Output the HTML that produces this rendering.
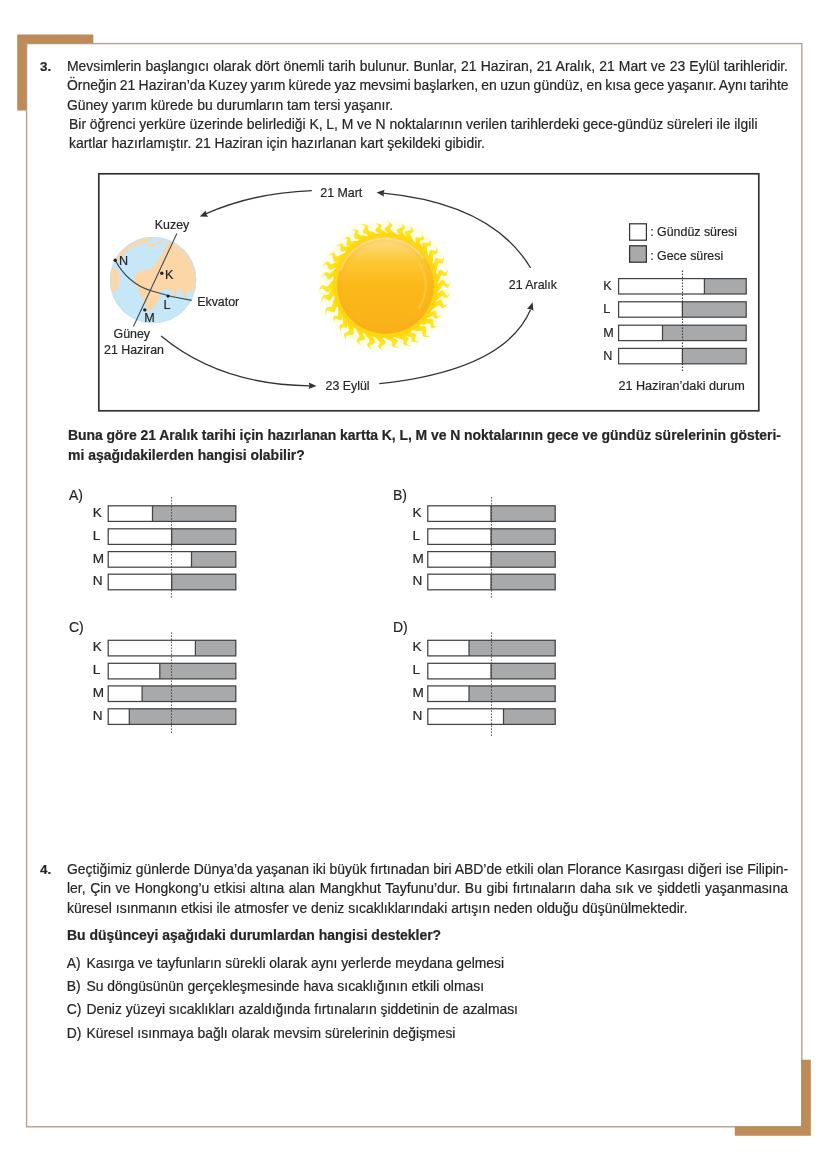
<!DOCTYPE html>
<html><head><meta charset="utf-8"><style>
html,body{margin:0;padding:0;background:#fff;}
body{width:828px;height:1171px;position:relative;overflow:hidden;font-family:"Liberation Sans",sans-serif;color:#262626;}
.t{position:absolute;white-space:nowrap;-webkit-text-stroke:0.2px #262626;}
</style></head><body>
<svg width="828" height="1171" viewBox="0 0 828 1171" style="position:absolute;left:0;top:0"><rect x="26.6" y="43.6" width="775.2" height="1083.2" fill="none" stroke="#b3a296" stroke-width="1.4"/>
<path d="M17.2 34.6 H93.3 V43.4 H26.3 V110.6 H17.2 Z" fill="#bc8b57"/>
<path d="M810.8 1135.8 H734.8 V1126.5 H801.3 V1059.8 H810.8 Z" fill="#bc8b57"/>
<rect x="98.8" y="173.8" width="660" height="237" fill="none" stroke="#333" stroke-width="1.7"/>
<rect x="618.6" y="278.6" width="127.60000000000002" height="15.4" fill="#fff"/>
<rect x="704.4" y="278.6" width="41.80000000000007" height="15.4" fill="#a8a9ab"/>
<rect x="618.6" y="278.6" width="127.60000000000002" height="15.4" fill="none" stroke="#444" stroke-width="1.25"/>
<line x1="704.4" y1="278.6" x2="704.4" y2="294.0" stroke="#444" stroke-width="1.25"/>
<rect x="618.6" y="301.8" width="127.60000000000002" height="15.4" fill="#fff"/>
<rect x="682.4" y="301.8" width="63.80000000000007" height="15.4" fill="#a8a9ab"/>
<rect x="618.6" y="301.8" width="127.60000000000002" height="15.4" fill="none" stroke="#444" stroke-width="1.25"/>
<line x1="682.4" y1="301.8" x2="682.4" y2="317.2" stroke="#444" stroke-width="1.25"/>
<rect x="618.6" y="325.2" width="127.60000000000002" height="15.4" fill="#fff"/>
<rect x="662.5" y="325.2" width="83.70000000000005" height="15.4" fill="#a8a9ab"/>
<rect x="618.6" y="325.2" width="127.60000000000002" height="15.4" fill="none" stroke="#444" stroke-width="1.25"/>
<line x1="662.5" y1="325.2" x2="662.5" y2="340.59999999999997" stroke="#444" stroke-width="1.25"/>
<rect x="618.6" y="348.4" width="127.60000000000002" height="15.4" fill="#fff"/>
<rect x="682.4" y="348.4" width="63.80000000000007" height="15.4" fill="#a8a9ab"/>
<rect x="618.6" y="348.4" width="127.60000000000002" height="15.4" fill="none" stroke="#444" stroke-width="1.25"/>
<line x1="682.4" y1="348.4" x2="682.4" y2="363.79999999999995" stroke="#444" stroke-width="1.25"/>
<line x1="682.5" y1="270.6" x2="682.5" y2="371.2" stroke="#3a3a3a" stroke-width="1.1" stroke-dasharray="1.3 1.7"/>
<rect x="629.6" y="223.8" width="16.8" height="16.4" fill="#fff" stroke="#333" stroke-width="1.25"/>
<rect x="629.6" y="245.8" width="16.8" height="16.4" fill="#a8a9ab" stroke="#333" stroke-width="1.25"/>
<rect x="108.2" y="505.8" width="127.60000000000001" height="15.6" fill="#fff"/>
<rect x="152.5" y="505.8" width="83.30000000000001" height="15.6" fill="#a8a9ab"/>
<rect x="108.2" y="505.8" width="127.60000000000001" height="15.6" fill="none" stroke="#444" stroke-width="1.25"/>
<line x1="152.5" y1="505.8" x2="152.5" y2="521.4" stroke="#444" stroke-width="1.25"/>
<rect x="108.2" y="528.8" width="127.60000000000001" height="15.6" fill="#fff"/>
<rect x="171.7" y="528.8" width="64.10000000000002" height="15.6" fill="#a8a9ab"/>
<rect x="108.2" y="528.8" width="127.60000000000001" height="15.6" fill="none" stroke="#444" stroke-width="1.25"/>
<line x1="171.7" y1="528.8" x2="171.7" y2="544.4" stroke="#444" stroke-width="1.25"/>
<rect x="108.2" y="551.6" width="127.60000000000001" height="15.6" fill="#fff"/>
<rect x="191.5" y="551.6" width="44.30000000000001" height="15.6" fill="#a8a9ab"/>
<rect x="108.2" y="551.6" width="127.60000000000001" height="15.6" fill="none" stroke="#444" stroke-width="1.25"/>
<line x1="191.5" y1="551.6" x2="191.5" y2="567.2" stroke="#444" stroke-width="1.25"/>
<rect x="108.2" y="574.2" width="127.60000000000001" height="15.6" fill="#fff"/>
<rect x="171.7" y="574.2" width="64.10000000000002" height="15.6" fill="#a8a9ab"/>
<rect x="108.2" y="574.2" width="127.60000000000001" height="15.6" fill="none" stroke="#444" stroke-width="1.25"/>
<line x1="171.7" y1="574.2" x2="171.7" y2="589.8000000000001" stroke="#444" stroke-width="1.25"/>
<line x1="171.5" y1="497.2" x2="171.5" y2="598.2" stroke="#3a3a3a" stroke-width="1.1" stroke-dasharray="1.3 1.7"/>
<rect x="427.8" y="505.8" width="127.40000000000003" height="15.6" fill="#fff"/>
<rect x="491" y="505.8" width="64.20000000000005" height="15.6" fill="#a8a9ab"/>
<rect x="427.8" y="505.8" width="127.40000000000003" height="15.6" fill="none" stroke="#444" stroke-width="1.25"/>
<line x1="491" y1="505.8" x2="491" y2="521.4" stroke="#444" stroke-width="1.25"/>
<rect x="427.8" y="528.8" width="127.40000000000003" height="15.6" fill="#fff"/>
<rect x="491" y="528.8" width="64.20000000000005" height="15.6" fill="#a8a9ab"/>
<rect x="427.8" y="528.8" width="127.40000000000003" height="15.6" fill="none" stroke="#444" stroke-width="1.25"/>
<line x1="491" y1="528.8" x2="491" y2="544.4" stroke="#444" stroke-width="1.25"/>
<rect x="427.8" y="551.6" width="127.40000000000003" height="15.6" fill="#fff"/>
<rect x="491" y="551.6" width="64.20000000000005" height="15.6" fill="#a8a9ab"/>
<rect x="427.8" y="551.6" width="127.40000000000003" height="15.6" fill="none" stroke="#444" stroke-width="1.25"/>
<line x1="491" y1="551.6" x2="491" y2="567.2" stroke="#444" stroke-width="1.25"/>
<rect x="427.8" y="574.2" width="127.40000000000003" height="15.6" fill="#fff"/>
<rect x="491" y="574.2" width="64.20000000000005" height="15.6" fill="#a8a9ab"/>
<rect x="427.8" y="574.2" width="127.40000000000003" height="15.6" fill="none" stroke="#444" stroke-width="1.25"/>
<line x1="491" y1="574.2" x2="491" y2="589.8000000000001" stroke="#444" stroke-width="1.25"/>
<line x1="491.5" y1="497.2" x2="491.5" y2="598.2" stroke="#3a3a3a" stroke-width="1.1" stroke-dasharray="1.3 1.7"/>
<rect x="108.2" y="640.3" width="127.60000000000001" height="15.6" fill="#fff"/>
<rect x="195.4" y="640.3" width="40.400000000000006" height="15.6" fill="#a8a9ab"/>
<rect x="108.2" y="640.3" width="127.60000000000001" height="15.6" fill="none" stroke="#444" stroke-width="1.25"/>
<line x1="195.4" y1="640.3" x2="195.4" y2="655.9" stroke="#444" stroke-width="1.25"/>
<rect x="108.2" y="663.3" width="127.60000000000001" height="15.6" fill="#fff"/>
<rect x="159.8" y="663.3" width="76.0" height="15.6" fill="#a8a9ab"/>
<rect x="108.2" y="663.3" width="127.60000000000001" height="15.6" fill="none" stroke="#444" stroke-width="1.25"/>
<line x1="159.8" y1="663.3" x2="159.8" y2="678.9" stroke="#444" stroke-width="1.25"/>
<rect x="108.2" y="685.9" width="127.60000000000001" height="15.6" fill="#fff"/>
<rect x="142.1" y="685.9" width="93.70000000000002" height="15.6" fill="#a8a9ab"/>
<rect x="108.2" y="685.9" width="127.60000000000001" height="15.6" fill="none" stroke="#444" stroke-width="1.25"/>
<line x1="142.1" y1="685.9" x2="142.1" y2="701.5" stroke="#444" stroke-width="1.25"/>
<rect x="108.2" y="708.8" width="127.60000000000001" height="15.6" fill="#fff"/>
<rect x="129.3" y="708.8" width="106.5" height="15.6" fill="#a8a9ab"/>
<rect x="108.2" y="708.8" width="127.60000000000001" height="15.6" fill="none" stroke="#444" stroke-width="1.25"/>
<line x1="129.3" y1="708.8" x2="129.3" y2="724.4" stroke="#444" stroke-width="1.25"/>
<line x1="171.5" y1="632.5" x2="171.5" y2="732.8" stroke="#3a3a3a" stroke-width="1.1" stroke-dasharray="1.3 1.7"/>
<rect x="427.8" y="640.3" width="127.40000000000003" height="15.6" fill="#fff"/>
<rect x="469" y="640.3" width="86.20000000000005" height="15.6" fill="#a8a9ab"/>
<rect x="427.8" y="640.3" width="127.40000000000003" height="15.6" fill="none" stroke="#444" stroke-width="1.25"/>
<line x1="469" y1="640.3" x2="469" y2="655.9" stroke="#444" stroke-width="1.25"/>
<rect x="427.8" y="663.3" width="127.40000000000003" height="15.6" fill="#fff"/>
<rect x="491" y="663.3" width="64.20000000000005" height="15.6" fill="#a8a9ab"/>
<rect x="427.8" y="663.3" width="127.40000000000003" height="15.6" fill="none" stroke="#444" stroke-width="1.25"/>
<line x1="491" y1="663.3" x2="491" y2="678.9" stroke="#444" stroke-width="1.25"/>
<rect x="427.8" y="685.9" width="127.40000000000003" height="15.6" fill="#fff"/>
<rect x="469" y="685.9" width="86.20000000000005" height="15.6" fill="#a8a9ab"/>
<rect x="427.8" y="685.9" width="127.40000000000003" height="15.6" fill="none" stroke="#444" stroke-width="1.25"/>
<line x1="469" y1="685.9" x2="469" y2="701.5" stroke="#444" stroke-width="1.25"/>
<rect x="427.8" y="708.8" width="127.40000000000003" height="15.6" fill="#fff"/>
<rect x="503.5" y="708.8" width="51.700000000000045" height="15.6" fill="#a8a9ab"/>
<rect x="427.8" y="708.8" width="127.40000000000003" height="15.6" fill="none" stroke="#444" stroke-width="1.25"/>
<line x1="503.5" y1="708.8" x2="503.5" y2="724.4" stroke="#444" stroke-width="1.25"/>
<line x1="491.5" y1="632.5" x2="491.5" y2="736.2" stroke="#3a3a3a" stroke-width="1.1" stroke-dasharray="1.3 1.7"/>
<path d="M311.8 190.6 Q252 193 205 214.2" fill="none" stroke="#333" stroke-width="1.3"/><path d="M199.7 216.6 L205.7 210.6 L206.2 213.9 L208.2 216.7 Z" fill="#333"/>
<path d="M530.6 268 C505 225 455 200 383 193.1" fill="none" stroke="#333" stroke-width="1.3"/><path d="M376.5 192.4 L384.6 189.8 L383.5 193.0 L384.0 196.4 Z" fill="#333"/>
<path d="M161.1 336.1 Q220 385 310 385.8" fill="none" stroke="#333" stroke-width="1.3"/><path d="M316.5 385.9 L308.6 389.0 L309.5 385.7 L308.8 382.4 Z" fill="#333"/>
<path d="M379.3 383.7 Q505 370 530.6 309.5" fill="none" stroke="#333" stroke-width="1.3"/><path d="M532.5 302.3 L533.5 310.7 L530.5 309.0 L527.1 308.9 Z" fill="#333"/>

<defs><clipPath id="gc"><circle cx="153.1" cy="280.1" r="43.2"/></clipPath></defs>
<circle cx="153.1" cy="280.1" r="43.2" fill="#c6e7f7"/>
<g clip-path="url(#gc)" fill="#fdd6a8">
 <path d="M171 230 L205 240 L205 290 L196 290 L190 292 L187 291 L186.5 297 L183.5 297 L182 291 L177 290 L176 296 L173 296 L172 290 L165 289 L161 292 L159 300 L155 306 L150 311 L146.5 309 L143.5 300 L139.5 292 L135.5 284 L134 277 L138 272 L146 270 L152 268 L156 263 L161 256 L165 248 L169 240 Z"/>
 <path d="M105 262 L105 228 L152 228 L152 239.8 L146 242.8 L137 245.5 L129 249.5 L124 255 L121 261 Z"/>
 <ellipse cx="151.5" cy="245.3" rx="3.5" ry="1.6"/>
 <ellipse cx="159.5" cy="242.5" rx="3.5" ry="1.5" transform="rotate(-15 159.5 242.5)"/>
 <path d="M105 266 L111 266 L118 270 L120 281 L117 290 L111 294 L105 294 Z"/>
</g>
<circle cx="153.1" cy="280.1" r="42.6" fill="none" stroke="#c2e3f5" stroke-width="1.3" stroke-opacity="0.8"/>
<line x1="176.9" y1="233.4" x2="133.4" y2="326.5" stroke="#3d4a58" stroke-width="1.1"/>
<path d="M115.2 260.2 Q128 284 152 291 Q172 297.5 191.7 300.4" fill="none" stroke="#3d4a58" stroke-width="1.3"/>
<circle cx="115.2" cy="260.2" r="1.7" fill="#222"/>
<circle cx="161.8" cy="273.2" r="1.7" fill="#222"/>
<circle cx="168" cy="296.1" r="1.7" fill="#222"/>
<circle cx="144.8" cy="309.9" r="1.7" fill="#222"/>


<defs>
 <radialGradient id="fg" gradientUnits="userSpaceOnUse" cx="385.5" cy="285.5" r="68">
  <stop offset="0.7" stop-color="#ffd20e"/>
  <stop offset="0.84" stop-color="#ffe41a"/>
  <stop offset="1" stop-color="#f6ee5a"/>
 </radialGradient>
 <filter id="fb" x="-10%" y="-10%" width="120%" height="120%"><feGaussianBlur stdDeviation="0.45"/></filter>
 <filter id="fb2" x="-10%" y="-10%" width="120%" height="120%"><feGaussianBlur stdDeviation="2"/></filter>
 <linearGradient id="sg" gradientUnits="userSpaceOnUse" x1="0" y1="237.5" x2="0" y2="333.5">
  <stop offset="0" stop-color="#fde08a"/>
  <stop offset="0.1" stop-color="#fdd56a"/>
  <stop offset="0.24" stop-color="#fcc835"/>
  <stop offset="0.5" stop-color="#fbb919"/>
  <stop offset="1" stop-color="#fab11a"/>
 </linearGradient>
 <radialGradient id="sh" gradientUnits="userSpaceOnUse" cx="385.5" cy="285.5" r="48.3">
  <stop offset="0.85" stop-color="#f9a820" stop-opacity="0"/>
  <stop offset="1" stop-color="#f9a820" stop-opacity="0.35"/>
 </radialGradient>
</defs>
<circle cx="385.5" cy="285.5" r="65" fill="#fdfbd6" opacity="0.55" filter="url(#fb2)"/>
<path d="M435.3 281.0 L436.5 282.6 L437.7 283.5 L438.8 283.3 L439.9 282.2 L440.9 280.8 L442.0 279.9 L443.1 280.0 L444.4 281.1 L445.6 282.6 L446.8 283.9 L447.9 284.4 L449.0 284.0 L450.1 283.0 L451.2 282.0 L451.2 282.0 L450.2 284.2 L449.0 286.1 L447.9 287.4 L446.7 287.6 L445.6 287.0 L444.5 286.1 L443.4 285.7 L442.3 286.1 L441.1 287.5 L439.9 289.4 L438.6 290.9 L437.4 291.5 L436.3 291.0 L435.3 289.7Z M435.3 290.2 L436.2 292.1 L437.2 293.1 L438.3 293.1 L439.5 292.2 L440.8 291.0 L442.0 290.2 L443.1 290.5 L444.1 291.6 L445.0 293.2 L445.9 294.6 L447.0 295.2 L448.1 294.8 L449.4 293.8 L450.6 292.8 L450.6 292.8 L449.2 295.0 L447.8 296.9 L446.4 298.1 L445.3 298.2 L444.3 297.6 L443.3 296.6 L442.3 296.0 L441.1 296.4 L439.7 297.6 L438.2 299.2 L436.7 300.5 L435.4 301.0 L434.4 300.3 L433.7 298.9Z M433.8 298.5 L434.4 300.4 L435.2 301.7 L436.3 301.8 L437.7 301.1 L439.1 300.2 L440.4 299.6 L441.4 300.1 L442.2 301.4 L442.8 303.1 L443.5 304.7 L444.5 305.4 L445.7 305.2 L447.1 304.5 L448.5 303.8 L448.5 303.8 L446.7 305.6 L445.0 307.2 L443.4 308.2 L442.3 308.1 L441.4 307.3 L440.6 306.2 L439.7 305.4 L438.5 305.5 L436.9 306.5 L435.1 307.8 L433.4 308.9 L432.1 309.1 L431.3 308.3 L430.8 306.7Z M429.8 308.8 L429.8 310.7 L430.2 312.0 L431.1 312.3 L432.5 311.8 L434.0 311.1 L435.2 310.8 L436.1 311.2 L436.5 312.6 L436.6 314.2 L436.9 315.7 L437.6 316.4 L438.8 316.3 L440.3 315.6 L441.7 315.1 L441.7 315.1 L439.7 316.7 L437.7 318.1 L436.1 318.8 L435.0 318.7 L434.4 317.9 L434.0 316.8 L433.3 316.0 L432.2 316.0 L430.5 316.7 L428.6 317.8 L426.8 318.5 L425.6 318.5 L425.0 317.7 L425.0 316.1Z M426.0 314.8 L425.9 316.9 L426.3 318.4 L427.4 319.0 L429.0 318.9 L430.8 318.6 L432.2 318.7 L433.1 319.5 L433.5 321.1 L433.5 323.1 L433.7 324.8 L434.3 325.9 L435.6 326.3 L437.3 326.2 L438.9 326.1 L438.9 326.1 L436.5 327.1 L434.2 328.0 L432.3 328.2 L431.2 327.7 L430.6 326.5 L430.3 325.1 L429.6 324.0 L428.4 323.5 L426.5 323.8 L424.2 324.4 L422.2 324.7 L420.8 324.3 L420.2 323.1 L420.2 321.5Z M420.0 321.7 L419.6 323.8 L419.8 325.4 L420.7 326.2 L422.3 326.5 L424.2 326.6 L425.6 326.9 L426.3 328.0 L426.4 329.8 L426.0 331.8 L425.8 333.7 L426.1 335.0 L427.3 335.8 L428.9 336.1 L430.4 336.5 L430.4 336.5 L427.9 336.9 L425.6 337.1 L423.7 336.9 L422.8 336.0 L422.5 334.7 L422.4 333.1 L422.0 331.8 L420.9 331.1 L418.9 330.9 L416.6 331.0 L414.5 330.8 L413.2 330.1 L412.9 328.9 L413.2 327.1Z M411.2 328.4 L410.3 330.2 L410.1 331.7 L410.8 332.6 L412.4 333.0 L414.2 333.3 L415.5 333.8 L416.1 334.8 L415.9 336.3 L415.3 338.0 L414.9 339.5 L415.3 340.6 L416.5 341.2 L418.3 341.6 L420.0 341.9 L420.0 341.9 L417.2 342.2 L414.6 342.3 L412.6 342.0 L411.6 341.2 L411.4 340.0 L411.5 338.7 L411.2 337.5 L410.1 336.8 L408.2 336.4 L405.9 336.1 L403.9 335.7 L402.7 334.9 L402.7 333.7 L403.3 332.2Z M404.7 331.7 L403.5 333.3 L403.1 334.7 L403.7 335.7 L405.1 336.3 L406.9 336.8 L408.2 337.5 L408.6 338.5 L408.2 339.9 L407.4 341.4 L406.8 342.8 L407.0 344.0 L408.1 344.7 L409.9 345.2 L411.6 345.7 L411.6 345.7 L408.8 345.7 L406.1 345.5 L404.2 344.9 L403.3 344.0 L403.2 342.9 L403.5 341.6 L403.3 340.5 L402.4 339.6 L400.5 339.0 L398.3 338.4 L396.3 337.7 L395.3 336.8 L395.4 335.6 L396.3 334.3Z M395.4 334.5 L393.9 335.8 L393.2 337.0 L393.5 337.9 L394.8 338.7 L396.4 339.5 L397.5 340.3 L397.7 341.3 L397.1 342.5 L396.0 343.7 L395.1 344.9 L395.1 345.9 L396.1 346.8 L397.7 347.5 L399.2 348.2 L399.2 348.2 L396.5 347.7 L394.0 347.1 L392.3 346.3 L391.5 345.3 L391.7 344.3 L392.2 343.2 L392.3 342.2 L391.5 341.3 L389.8 340.4 L387.8 339.5 L386.0 338.5 L385.2 337.5 L385.5 336.5 L386.7 335.5Z M385.4 335.5 L383.6 336.6 L382.7 337.6 L382.8 338.7 L383.8 339.8 L385.0 340.9 L385.8 342.0 L385.6 343.1 L384.5 344.2 L382.9 345.2 L381.5 346.2 L381.0 347.3 L381.4 348.4 L382.3 349.5 L383.2 350.7 L383.2 350.7 L381.1 349.5 L379.2 348.2 L378.1 347.0 L377.9 345.9 L378.6 344.9 L379.5 343.9 L380.0 342.8 L379.7 341.7 L378.4 340.5 L376.7 339.1 L375.2 337.8 L374.7 336.5 L375.3 335.6 L376.6 334.7Z M376.0 334.6 L374.1 335.4 L373.0 336.3 L372.9 337.5 L373.7 338.8 L374.8 340.2 L375.4 341.5 L375.1 342.7 L373.8 343.6 L372.1 344.4 L370.7 345.3 L370.1 346.3 L370.4 347.6 L371.3 349.0 L372.2 350.3 L372.2 350.3 L370.1 348.7 L368.3 347.0 L367.2 345.5 L367.1 344.3 L367.9 343.3 L368.9 342.4 L369.6 341.4 L369.3 340.1 L368.3 338.6 L366.8 336.8 L365.6 335.1 L365.3 333.8 L366.1 332.8 L367.6 332.2Z M366.8 331.9 L364.8 332.2 L363.5 332.8 L363.2 333.9 L363.8 335.4 L364.7 336.9 L365.1 338.2 L364.6 339.2 L363.3 339.9 L361.6 340.3 L360.1 340.9 L359.4 341.8 L359.6 343.1 L360.4 344.6 L361.1 346.1 L361.1 346.1 L359.3 344.1 L357.7 342.2 L356.8 340.5 L356.8 339.3 L357.7 338.5 L358.8 337.8 L359.5 336.9 L359.5 335.7 L358.6 334.0 L357.4 332.1 L356.6 330.2 L356.5 328.9 L357.4 328.2 L359.0 327.9Z M357.7 327.1 L355.6 327.2 L354.1 327.6 L353.4 328.8 L353.5 330.4 L353.9 332.2 L353.8 333.8 L353.0 334.7 L351.3 335.1 L349.2 335.3 L347.4 335.5 L346.2 336.2 L345.8 337.5 L345.9 339.2 L345.9 340.8 L345.9 340.8 L344.9 338.4 L344.1 336.1 L343.9 334.3 L344.4 333.1 L345.7 332.5 L347.2 332.0 L348.4 331.3 L348.8 330.0 L348.5 328.1 L347.9 325.8 L347.6 323.8 L348.0 322.3 L349.2 321.7 L350.9 321.6Z M351.2 321.9 L349.2 321.4 L347.9 321.5 L347.3 322.4 L347.3 323.9 L347.6 325.6 L347.5 327.0 L346.8 327.7 L345.4 327.8 L343.7 327.6 L342.2 327.6 L341.2 328.1 L341.0 329.4 L341.2 331.0 L341.4 332.7 L341.4 332.7 L340.4 330.2 L339.5 327.8 L339.3 326.0 L339.7 324.9 L340.7 324.5 L341.9 324.3 L342.9 323.8 L343.2 322.6 L343.0 320.8 L342.6 318.6 L342.4 316.6 L342.8 315.3 L343.8 315.0 L345.4 315.3Z M345.8 316.0 L344.1 315.1 L342.7 314.9 L342.1 315.6 L341.9 317.0 L341.9 318.6 L341.6 319.8 L340.8 320.3 L339.3 320.0 L337.7 319.3 L336.2 318.9 L335.1 319.0 L334.6 319.9 L334.4 321.3 L334.2 322.7 L334.2 322.7 L333.8 320.4 L333.5 318.2 L333.6 316.6 L334.3 315.8 L335.3 315.8 L336.6 315.9 L337.6 315.8 L338.1 314.9 L338.2 313.1 L338.1 311.0 L338.2 309.1 L338.7 308.0 L339.8 307.9 L341.1 308.6Z M340.8 307.8 L338.9 306.8 L337.4 306.5 L336.4 307.2 L335.7 308.7 L335.2 310.5 L334.5 311.8 L333.4 312.3 L331.8 312.0 L330.1 311.2 L328.5 310.6 L327.2 310.8 L326.4 311.9 L325.8 313.6 L325.2 315.2 L325.2 315.2 L325.3 312.5 L325.5 309.9 L326.1 308.0 L327.1 307.1 L328.4 307.1 L329.8 307.3 L331.0 307.1 L331.9 306.1 L332.6 304.3 L333.1 302.0 L333.8 300.0 L334.8 298.9 L336.1 298.9 L337.6 299.7Z M337.0 297.6 L335.4 296.3 L334.0 295.6 L332.9 296.1 L331.9 297.5 L331.0 299.2 L330.1 300.4 L328.9 300.7 L327.5 300.1 L326.0 299.1 L324.5 298.4 L323.3 298.5 L322.3 299.6 L321.4 301.3 L320.6 303.0 L320.6 303.0 L321.1 300.1 L321.8 297.4 L322.8 295.5 L323.9 294.7 L325.1 294.7 L326.4 295.1 L327.7 295.1 L328.8 294.3 L329.8 292.5 L330.8 290.3 L331.9 288.5 L333.1 287.6 L334.3 287.9 L335.6 289.0Z M335.8 290.8 L334.4 289.2 L333.1 288.3 L331.8 288.6 L330.7 289.8 L329.5 291.2 L328.4 292.2 L327.1 292.3 L325.8 291.4 L324.4 290.0 L323.1 288.9 L321.8 288.6 L320.6 289.3 L319.4 290.6 L318.3 291.9 L318.3 291.9 L319.3 289.4 L320.5 287.1 L321.7 285.6 L323.0 285.1 L324.2 285.5 L325.5 286.3 L326.7 286.6 L328.0 286.0 L329.2 284.5 L330.6 282.5 L331.9 280.9 L333.3 280.2 L334.5 280.7 L335.6 282.0Z M335.9 279.2 L335.1 277.4 L334.2 276.3 L333.1 276.4 L331.8 277.3 L330.6 278.6 L329.4 279.4 L328.3 279.2 L327.4 278.2 L326.5 276.7 L325.6 275.5 L324.6 275.2 L323.4 275.8 L322.1 277.0 L320.9 278.2 L320.9 278.2 L322.3 275.8 L323.8 273.7 L325.2 272.3 L326.3 271.9 L327.3 272.4 L328.2 273.3 L329.2 273.7 L330.4 273.3 L331.8 272.0 L333.4 270.3 L334.9 269.0 L336.2 268.6 L337.1 269.2 L337.8 270.7Z M337.6 271.2 L336.9 269.2 L336.1 268.0 L334.9 267.8 L333.4 268.5 L331.8 269.4 L330.4 270.0 L329.3 269.6 L328.4 268.3 L327.7 266.6 L326.9 265.1 L325.8 264.5 L324.5 264.7 L322.9 265.7 L321.4 266.5 L321.4 266.5 L323.3 264.5 L325.2 262.7 L326.9 261.7 L328.2 261.6 L329.2 262.4 L330.1 263.5 L331.1 264.2 L332.4 264.1 L334.1 263.1 L336.1 261.8 L337.9 260.7 L339.4 260.6 L340.3 261.5 L340.8 263.1Z M340.3 264.1 L340.1 262.1 L339.6 260.8 L338.6 260.4 L337.2 260.9 L335.7 261.5 L334.5 261.8 L333.6 261.2 L333.2 259.7 L332.9 257.8 L332.7 256.1 L332.0 255.1 L330.9 254.9 L329.5 255.3 L328.2 255.5 L328.2 255.5 L330.1 254.2 L332.0 253.1 L333.5 252.6 L334.5 252.9 L335.1 254.0 L335.5 255.3 L336.2 256.2 L337.3 256.4 L339.0 255.7 L340.9 254.7 L342.7 254.0 L344.0 254.1 L344.6 255.0 L344.7 256.6Z M346.2 254.6 L346.5 252.6 L346.4 251.3 L345.5 250.8 L344.1 251.1 L342.4 251.5 L341.1 251.6 L340.4 251.0 L340.2 249.6 L340.3 248.0 L340.3 246.5 L339.7 245.7 L338.5 245.6 L336.9 246.0 L335.4 246.3 L335.4 246.3 L337.7 245.1 L339.9 244.0 L341.6 243.6 L342.7 243.9 L343.2 244.8 L343.4 245.9 L344.0 246.8 L345.1 247.0 L346.8 246.6 L348.9 245.9 L350.9 245.5 L352.1 245.7 L352.5 246.7 L352.2 248.2Z M351.1 249.2 L351.7 247.4 L351.8 246.0 L351.1 245.4 L349.6 245.4 L348.1 245.6 L346.8 245.4 L346.3 244.6 L346.4 243.2 L346.9 241.4 L347.3 239.9 L347.0 238.9 L346.1 238.4 L344.7 238.4 L343.3 238.3 L343.3 238.3 L345.6 237.6 L347.7 237.1 L349.3 237.1 L350.1 237.7 L350.3 238.7 L350.2 240.0 L350.5 241.0 L351.4 241.4 L353.1 241.3 L355.2 241.0 L357.1 240.9 L358.3 241.3 L358.4 242.3 L358.0 243.8Z M358.6 243.4 L359.4 241.5 L359.6 240.1 L358.9 239.2 L357.4 238.8 L355.6 238.5 L354.3 238.1 L353.8 237.1 L354.0 235.6 L354.7 233.8 L355.1 232.3 L354.9 231.1 L353.8 230.5 L352.1 230.1 L350.5 229.8 L350.5 229.8 L353.1 229.5 L355.6 229.4 L357.5 229.7 L358.4 230.5 L358.5 231.7 L358.4 233.1 L358.6 234.2 L359.7 235.0 L361.5 235.3 L363.8 235.5 L365.8 235.9 L366.9 236.7 L367.0 237.8 L366.3 239.3Z M366.8 239.1 L368.0 237.4 L368.4 236.0 L367.8 234.9 L366.3 234.2 L364.6 233.6 L363.3 232.9 L362.8 231.8 L363.3 230.3 L364.1 228.7 L364.7 227.2 L364.5 226.0 L363.4 225.2 L361.6 224.5 L359.9 223.9 L359.9 223.9 L362.8 224.1 L365.4 224.4 L367.3 225.1 L368.3 226.1 L368.3 227.3 L368.0 228.6 L368.2 229.8 L369.1 230.8 L371.0 231.5 L373.2 232.1 L375.2 232.9 L376.2 234.0 L376.1 235.2 L375.2 236.6Z M377.0 236.2 L378.5 235.0 L379.3 233.9 L379.0 233.0 L377.7 232.2 L376.3 231.4 L375.3 230.6 L375.2 229.7 L376.0 228.5 L377.2 227.4 L378.2 226.2 L378.4 225.2 L377.7 224.4 L376.4 223.6 L375.1 222.8 L375.1 222.8 L377.5 223.4 L379.8 224.1 L381.3 225.0 L381.8 225.9 L381.5 226.9 L380.9 227.9 L380.6 228.9 L381.3 229.8 L382.8 230.7 L384.8 231.6 L386.5 232.6 L387.3 233.6 L386.9 234.5 L385.7 235.5Z M384.9 235.5 L386.6 234.5 L387.6 233.5 L387.4 232.5 L386.4 231.4 L385.2 230.4 L384.4 229.4 L384.6 228.3 L385.7 227.3 L387.4 226.3 L388.7 225.3 L389.3 224.3 L389.0 223.3 L388.1 222.2 L387.3 221.2 L387.3 221.2 L389.3 222.3 L391.1 223.5 L392.2 224.6 L392.4 225.6 L391.7 226.6 L390.7 227.5 L390.2 228.5 L390.5 229.6 L391.8 230.7 L393.5 232.0 L395.0 233.3 L395.5 234.4 L394.9 235.4 L393.6 236.2Z M395.8 236.6 L397.7 235.9 L398.9 235.2 L399.0 234.1 L398.2 232.9 L397.2 231.6 L396.7 230.4 L397.1 229.4 L398.4 228.6 L400.2 228.0 L401.7 227.3 L402.5 226.5 L402.3 225.4 L401.6 224.1 L401.0 222.9 L401.0 222.9 L402.8 224.4 L404.3 226.0 L405.2 227.3 L405.2 228.4 L404.3 229.2 L403.2 230.0 L402.5 230.8 L402.6 231.9 L403.6 233.4 L405.0 235.0 L406.2 236.6 L406.4 237.8 L405.7 238.6 L404.2 239.1Z M403.0 238.7 L405.0 238.3 L406.2 237.7 L406.5 236.6 L405.9 235.2 L405.1 233.8 L404.8 232.5 L405.3 231.5 L406.8 230.9 L408.6 230.5 L410.2 230.1 L411.1 229.3 L411.2 228.1 L410.6 226.8 L410.2 225.4 L410.2 225.4 L411.7 227.2 L413.1 229.0 L413.8 230.6 L413.5 231.7 L412.6 232.4 L411.3 233.0 L410.5 233.7 L410.4 234.9 L411.2 236.5 L412.4 238.3 L413.3 240.1 L413.3 241.4 L412.4 242.1 L410.9 242.4Z M412.4 243.3 L414.3 243.5 L415.7 243.2 L416.1 242.4 L415.8 241.0 L415.3 239.5 L415.2 238.3 L415.9 237.6 L417.4 237.4 L419.2 237.5 L420.9 237.5 L421.9 237.0 L422.1 236.0 L421.9 234.7 L421.8 233.4 L421.8 233.4 L422.9 235.4 L423.8 237.3 L424.1 238.8 L423.7 239.7 L422.6 240.1 L421.4 240.3 L420.4 240.7 L420.1 241.8 L420.6 243.4 L421.4 245.3 L421.9 247.2 L421.8 248.4 L420.8 248.8 L419.3 248.7Z M418.7 248.1 L420.7 248.5 L422.0 248.4 L422.6 247.6 L422.6 246.1 L422.3 244.5 L422.4 243.2 L423.2 242.6 L424.7 242.5 L426.5 242.8 L428.1 243.0 L429.2 242.6 L429.6 241.5 L429.5 240.1 L429.6 238.7 L429.6 238.7 L430.4 240.9 L431.0 243.1 L431.2 244.7 L430.6 245.7 L429.5 245.9 L428.2 246.0 L427.2 246.4 L426.8 247.5 L427.0 249.2 L427.4 251.3 L427.7 253.3 L427.3 254.5 L426.3 254.8 L424.7 254.5Z M425.2 255.1 L427.1 255.9 L428.4 256.0 L429.2 255.3 L429.3 253.7 L429.3 252.0 L429.6 250.6 L430.4 250.0 L431.8 250.1 L433.4 250.5 L434.8 250.8 L435.8 250.3 L436.2 249.1 L436.2 247.3 L436.2 245.7 L436.2 245.7 L436.9 248.3 L437.4 250.8 L437.4 252.7 L436.9 253.8 L435.8 254.1 L434.6 254.2 L433.6 254.5 L433.1 255.6 L433.0 257.5 L433.1 259.8 L433.0 261.8 L432.4 263.0 L431.4 263.1 L429.9 262.5Z M429.8 262.3 L431.6 263.3 L433.0 263.7 L433.9 263.0 L434.5 261.5 L434.9 259.7 L435.4 258.4 L436.5 257.9 L437.9 258.2 L439.6 259.0 L441.1 259.5 L442.2 259.2 L442.9 258.1 L443.4 256.4 L443.8 254.7 L443.8 254.7 L443.9 257.5 L443.8 260.0 L443.4 262.0 L442.6 262.9 L441.4 263.0 L440.1 262.8 L438.9 263.0 L438.1 264.0 L437.6 265.9 L437.2 268.1 L436.7 270.1 L435.8 271.2 L434.6 271.2 L433.2 270.4Z M433.7 272.3 L435.2 273.7 L436.4 274.4 L437.4 274.0 L438.2 272.6 L438.9 271.1 L439.7 270.0 L440.7 269.8 L442.0 270.5 L443.4 271.6 L444.7 272.5 L445.8 272.6 L446.7 271.8 L447.5 270.4 L448.2 269.0 L448.2 269.0 L447.7 271.5 L447.1 273.9 L446.4 275.5 L445.4 276.1 L444.3 275.9 L443.1 275.4 L442.0 275.2 L441.1 276.0 L440.2 277.6 L439.4 279.7 L438.5 281.5 L437.5 282.3 L436.4 282.0 L435.3 281.0Z" fill="url(#fg)" filter="url(#fb)"/>
<circle cx="385.5" cy="285.5" r="52.5" fill="#ffd60f"/>
<circle cx="385.5" cy="285.5" r="48.3" fill="url(#sg)"/>
<circle cx="385.5" cy="285.5" r="48.3" fill="url(#sh)"/>
<path d="M340.5 270.5 A47 47 0 0 1 423.5 258.5" fill="none" stroke="#feeab0" stroke-width="1.8" stroke-opacity="0.5"/>
<path d="M418.5 262.5 A40 40 0 0 1 418.5 308.5" fill="none" stroke="#fdd050" stroke-width="2.2" stroke-opacity="0.55"/>
</svg>
<div style="position:absolute;left:0;top:0;width:828px;height:1171px;will-change:transform"><div class="t" style="left:40px;top:57px;font-size:13.4px;line-height:19.35px;font-weight:bold;">3.</div>
<div class="t" style="left:67px;top:57px;font-size:13.95px;line-height:19.35px;word-spacing:0.260px;">Mevsimlerin başlangıcı olarak dört önemli tarih bulunur. Bunlar, 21 Haziran, 21 Aralık, 21 Mart ve 23 Eylül tarihleridir.</div>
<div class="t" style="left:67px;top:76px;font-size:13.95px;line-height:19.35px;word-spacing:-0.609px;">Örneğin 21 Haziran’da Kuzey yarım kürede yaz mevsimi başlarken, en uzun gündüz, en kısa gece yaşanır. Aynı tarihte</div>
<div class="t" style="left:67px;top:96px;font-size:13.95px;line-height:19.35px;">Güney yarım kürede bu durumların tam tersi yaşanır.</div>
<div class="t" style="left:69px;top:115px;font-size:13.95px;line-height:19.35px;word-spacing:-0.108px;">Bir öğrenci yerküre üzerinde belirlediği K, L, M ve N noktalarının verilen tarihlerdeki gece-gündüz süreleri ile ilgili</div>
<div class="t" style="left:69px;top:134px;font-size:13.95px;line-height:19.35px;">kartlar hazırlamıştır. 21 Haziran için hazırlanan kart şekildeki gibidir.</div>
<div class="t" style="left:320.3px;top:185px;font-size:12.4px;line-height:16px;">21 Mart</div>
<div class="t" style="left:154.8px;top:217px;font-size:12.4px;line-height:16px;">Kuzey</div>
<div class="t" style="left:508.8px;top:277px;font-size:12.4px;line-height:16px;">21 Aralık</div>
<div class="t" style="left:197.2px;top:294px;font-size:12.4px;line-height:16px;">Ekvator</div>
<div class="t" style="left:113.5px;top:326px;font-size:12.4px;line-height:16px;">Güney</div>
<div class="t" style="left:104.0px;top:342px;font-size:12.4px;line-height:16px;">21 Haziran</div>
<div class="t" style="left:325.5px;top:378px;font-size:12.4px;line-height:16px;">23 Eylül</div>
<div class="t" style="left:650.2px;top:224px;font-size:12.4px;line-height:16px;">: Gündüz süresi</div>
<div class="t" style="left:650.2px;top:248px;font-size:12.4px;line-height:16px;">: Gece süresi</div>
<div class="t" style="left:618.4px;top:378px;font-size:12.65px;line-height:16px;">21 Haziran’daki durum</div>
<div class="t" style="left:119.0px;top:253px;font-size:12.6px;line-height:16px;">N</div>
<div class="t" style="left:165.0px;top:267px;font-size:12.6px;line-height:16px;">K</div>
<div class="t" style="left:163.6px;top:297px;font-size:12.6px;line-height:16px;">L</div>
<div class="t" style="left:144.2px;top:310px;font-size:12.6px;line-height:16px;">M</div>
<div class="t" style="left:603.2px;top:278px;font-size:12.6px;line-height:16px;">K</div>
<div class="t" style="left:603.2px;top:301px;font-size:12.6px;line-height:16px;">L</div>
<div class="t" style="left:603.2px;top:325px;font-size:12.6px;line-height:16px;">M</div>
<div class="t" style="left:603.2px;top:348px;font-size:12.6px;line-height:16px;">N</div>
<div class="t" style="left:68px;top:426px;font-size:13.95px;line-height:19.35px;font-weight:bold;word-spacing:-0.118px;">Buna göre 21 Aralık tarihi için hazırlanan kartta K, L, M ve N noktalarının gece ve gündüz sürelerinin gösteri-</div>
<div class="t" style="left:68px;top:446px;font-size:13.98px;line-height:19.35px;font-weight:bold;">mi aşağıdakilerden hangisi olabilir?</div>
<div class="t" style="left:69.0px;top:487px;font-size:14px;line-height:16px;">A)</div>
<div class="t" style="left:393.0px;top:487px;font-size:14px;line-height:16px;">B)</div>
<div class="t" style="left:69.0px;top:619px;font-size:14px;line-height:16px;">C)</div>
<div class="t" style="left:393.0px;top:619px;font-size:14px;line-height:16px;">D)</div>
<div class="t" style="left:92.8px;top:505px;font-size:13.6px;line-height:16px;">K</div>
<div class="t" style="left:92.8px;top:528px;font-size:13.6px;line-height:16px;">L</div>
<div class="t" style="left:92.8px;top:551px;font-size:13.6px;line-height:16px;">M</div>
<div class="t" style="left:92.8px;top:573px;font-size:13.6px;line-height:16px;">N</div>
<div class="t" style="left:92.8px;top:639px;font-size:13.6px;line-height:16px;">K</div>
<div class="t" style="left:92.8px;top:662px;font-size:13.6px;line-height:16px;">L</div>
<div class="t" style="left:92.8px;top:685px;font-size:13.6px;line-height:16px;">M</div>
<div class="t" style="left:92.8px;top:708px;font-size:13.6px;line-height:16px;">N</div>
<div class="t" style="left:412.4px;top:505px;font-size:13.6px;line-height:16px;">K</div>
<div class="t" style="left:412.4px;top:528px;font-size:13.6px;line-height:16px;">L</div>
<div class="t" style="left:412.4px;top:551px;font-size:13.6px;line-height:16px;">M</div>
<div class="t" style="left:412.4px;top:573px;font-size:13.6px;line-height:16px;">N</div>
<div class="t" style="left:412.4px;top:639px;font-size:13.6px;line-height:16px;">K</div>
<div class="t" style="left:412.4px;top:662px;font-size:13.6px;line-height:16px;">L</div>
<div class="t" style="left:412.4px;top:685px;font-size:13.6px;line-height:16px;">M</div>
<div class="t" style="left:412.4px;top:708px;font-size:13.6px;line-height:16px;">N</div>
<div class="t" style="left:40px;top:860px;font-size:13.4px;line-height:19.35px;font-weight:bold;">4.</div>
<div class="t" style="left:67px;top:860px;font-size:13.95px;line-height:19.35px;word-spacing:-0.157px;">Geçtiğimiz günlerde Dünya’da yaşanan iki büyük fırtınadan biri ABD’de etkili olan Florance Kasırgası diğeri ise Filipin-</div>
<div class="t" style="left:67px;top:879px;font-size:13.95px;line-height:19.35px;word-spacing:0.675px;">ler, Çin ve Hongkong’u etkisi altına alan Mangkhut Tayfunu’dur. Bu gibi fırtınaların daha sık ve şiddetli yaşanmasına</div>
<div class="t" style="left:67px;top:899px;font-size:13.95px;line-height:19.35px;">küresel ısınmanın etkisi ile atmosfer ve deniz sıcaklıklarındaki artışın neden olduğu düşünülmektedir.</div>
<div class="t" style="left:67px;top:926px;font-size:13.95px;line-height:19.35px;font-weight:bold;">Bu düşünceyi aşağıdaki durumlardan hangisi destekler?</div>
<div class="t" style="left:66.7px;top:954px;font-size:13.9px;line-height:19.35px;">A)</div>
<div class="t" style="left:86.4px;top:954px;font-size:13.9px;line-height:19.35px;">Kasırga ve tayfunların sürekli olarak aynı yerlerde meydana gelmesi</div>
<div class="t" style="left:66.7px;top:977px;font-size:13.9px;line-height:19.35px;">B)</div>
<div class="t" style="left:86.4px;top:977px;font-size:13.9px;line-height:19.35px;">Su döngüsünün gerçekleşmesinde hava sıcaklığının etkili olması</div>
<div class="t" style="left:66.7px;top:1000px;font-size:13.9px;line-height:19.35px;">C)</div>
<div class="t" style="left:86.4px;top:1000px;font-size:13.9px;line-height:19.35px;">Deniz yüzeyi sıcaklıkları azaldığında fırtınaların şiddetinin de azalması</div>
<div class="t" style="left:66.7px;top:1024px;font-size:13.9px;line-height:19.35px;">D)</div>
<div class="t" style="left:86.4px;top:1024px;font-size:13.9px;line-height:19.35px;">Küresel ısınmaya bağlı olarak mevsim sürelerinin değişmesi</div>
</div></body></html>
